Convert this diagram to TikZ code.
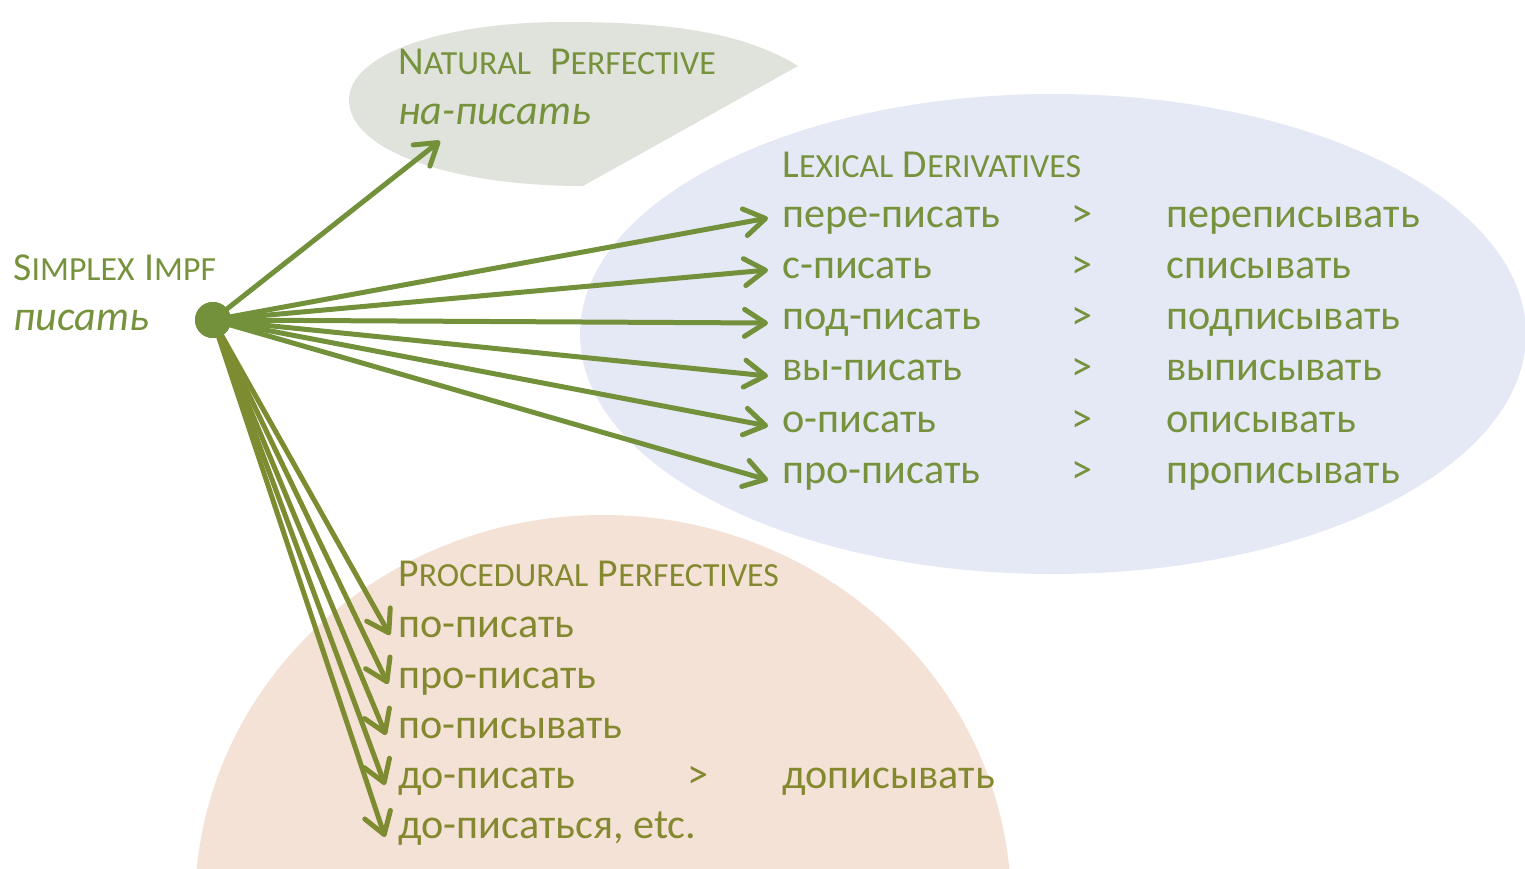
\documentclass[tikz,border=0pt]{standalone}
\usepackage{fontspec}
\setmainfont{Carlito}
\usetikzlibrary{arrows.meta}
\definecolor{txtg}{HTML}{76923C}
\definecolor{txto}{HTML}{84892F}
\definecolor{arrg}{HTML}{73913B}
\definecolor{arro}{HTML}{7D8C31}
\definecolor{bggray}{HTML}{E0E3DB}
\definecolor{bgblue}{HTML}{E5E9F5}
\definecolor{bgpeach}{HTML}{F5E2D7}
\newcommand\fakesc[2]{{\fontsize{19.8pt}{20pt}\selectfont #1\fontsize{16.9pt}{17pt}\selectfont #2}}
\tikzset{
  lbl/.style={anchor=base west, inner sep=0, text=txtg, font=\fontsize{21.1pt}{24pt}\selectfont},
  lblo/.style={lbl, text=txto},
  arr/.style={draw=arrg, line width=2.5pt, line cap=round, -{Straight Barb[length=10.5pt,width=13.5pt,round]}},
  arro/.style={arr, draw=arro},
}
\begin{document}
\begin{tikzpicture}[x=0.5pt,y=-0.5pt]
\useasboundingbox (0,0) rectangle (1525,868);
\clip (0,0) rectangle (1525,868);
% backgrounds
\fill[bggray] (798,66) .. controls (740,30) and (660,22) .. (565,22)
  .. controls (440,22) and (349,55) .. (349,100)
  .. controls (349,150) and (450,186) .. (583,186) -- cycle;
\fill[bgblue] (1053,334) ellipse [x radius=473, y radius=240];
\fill[bgpeach] (603,905) ellipse [x radius=408, y radius=390];
% dot
\node[circle, fill=arrg, minimum size=18pt, inner sep=0] (dot) at (213,320) {};
% labels
\node[lbl] (simp) at (13,280) {\fakesc{S}{IMPLEX} \fakesc{I}{MPF}};
\node[lbl] (pis) at (13,330) {\itshape писать};
\node[lbl] (nat) at (398,74) {\fakesc{N}{ATURAL}\hspace{0.45em}\fakesc{P}{ERFECTIVE}};
\node[lbl] (napis) at (398,124) {\itshape на-писать};
\node[lbl] (lex) at (782,177) {\fakesc{L}{EXICAL} \fakesc{D}{ERIVATIVES}};
\foreach \i/\a/\b [count=\n] in {227/пере-писать/переписывать,278/с-писать/списывать,329/под-писать/подписывать,380/вы-писать/выписывать,432/о-писать/описывать,483/про-писать/прописывать}{
  \node[lbl] (la\n) at (782,\i) {\a};
  \node[lbl] (lg\n) at (1071,\i) {>};
  \node[lbl] (lb\n) at (1166,\i) {\b};
}
\node[lblo] (proc) at (398,586) {\fakesc{P}{ROCEDURAL} \fakesc{P}{ERFECTIVES}};
\node[lblo] (p1) at (398,637) {по-писать};
\node[lblo] (p2) at (398,688) {про-писать};
\node[lblo] (p3) at (398,738) {по-писывать};
\node[lblo] (p4) at (398,788) {до-писать};
\node[lblo] (p4g) at (687,788) {>};
\node[lblo] (p4b) at (782,788) {дописывать};
\node[lblo] (p5) at (398,838) {до-писаться, etc.};
% arrow tips
\coordinate (tn) at (440,141);
\coordinate (t1) at (768,218);
\coordinate (t2) at (768,270);
\coordinate (t3) at (768,323);
\coordinate (t4) at (768,376);
\coordinate (t5) at (768,426);
\coordinate (t6) at (768,480);
\coordinate (u1) at (390,635);
\coordinate (u2) at (388,684);
\coordinate (u3) at (386,735);
\coordinate (u4) at (385,785);
\coordinate (u5) at (385,837);
\draw[arr] (dot) -- (tn);
\foreach \t in {t1,t2,t3,t4,t5,t6} \draw[arr] (dot) -- (\t);
\foreach \t in {u1,u2,u3,u4,u5} \draw[arro] (dot) -- (\t);
\node[circle, fill=arrg, minimum size=18pt, inner sep=0] at (dot) {};
\end{tikzpicture}
\end{document}
